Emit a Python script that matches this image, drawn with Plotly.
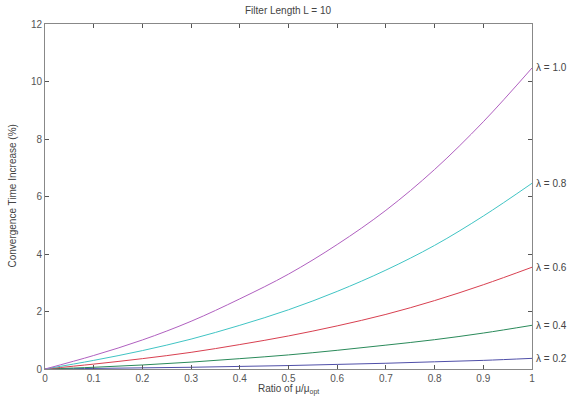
import plotly.graph_objects as go

x_ratio = [0.0, 0.1, 0.2, 0.3, 0.4, 0.5, 0.6, 0.7, 0.8, 0.9, 1.0]
lam_02 = [0.0, 0.02, 0.04, 0.06, 0.09, 0.12, 0.16, 0.20, 0.25, 0.30, 0.37]
lam_04 = [0.0, 0.06, 0.14, 0.24, 0.36, 0.49, 0.65, 0.83, 1.02, 1.25, 1.52]
lam_06 = [0.0, 0.17, 0.36, 0.58, 0.85, 1.15, 1.50, 1.90, 2.38, 2.93, 3.54]
lam_08 = [0.0, 0.30, 0.64, 1.04, 1.52, 2.06, 2.70, 3.44, 4.30, 5.32, 6.46]
lam_10 = [0.0, 0.47, 1.01, 1.66, 2.44, 3.30, 4.33, 5.52, 6.94, 8.60, 10.47]

series = [
    ("λ = 0.2", lam_02, "#4f4fa8"),
    ("λ = 0.4", lam_04, "#2a8a5a"),
    ("λ = 0.6", lam_06, "#d84050"),
    ("λ = 0.8", lam_08, "#40c4c4"),
    ("λ = 1.0", lam_10, "#b060c0"),
]

fig = go.Figure()
for name, vals, col in series:
    fig.add_trace(go.Scatter(x=x_ratio, y=vals, mode="lines", name=name,
                             line=dict(color=col, width=1, shape="spline", smoothing=1)))

annotations = []
for name, vals, col in series:
    annotations.append(dict(x=1, xref="paper", y=vals[-1], yref="y", text=name,
                            showarrow=False, xanchor="left", yanchor="middle", xshift=2,
                            font=dict(size=10, color="#444444")))

annotations.append(dict(x=0.5, xref="paper", y=1, yref="paper", yshift=14, text="Filter Length L = 10",
                        showarrow=False, xanchor="center", yanchor="middle",
                        font=dict(size=10, color="#444444")))
annotations.append(dict(x=0, xref="paper", y=0.5, yref="paper", xshift=-33, text="Convergence Time Increase (%)",
                        showarrow=False, textangle=-90, xanchor="center", yanchor="middle",
                        font=dict(size=10, color="#444444")))
annotations.append(dict(x=0.5, xref="paper", y=0, yref="paper", yshift=-12, text="Ratio of μ/μ<sub>opt</sub>",
                        showarrow=False, xanchor="center", yanchor="top",
                        font=dict(size=10, color="#444444")))

axis_common = dict(showline=True, linecolor="#888888", linewidth=1, mirror="allticks",
                   ticks="inside", ticklen=4, tickcolor="#555555", showgrid=False, zeroline=False,
                   tickfont=dict(size=10, color="#555555", family="Liberation Sans, Arial"))

fig.update_layout(
    width=576, height=397,
    margin=dict(l=45, r=44, t=24, b=28),
    paper_bgcolor="white", plot_bgcolor="white",
    showlegend=False,
    font=dict(family="Liberation Sans, Arial", size=10, color="#444444"),
    xaxis=dict(range=[0, 1], tickvals=[0, 0.1, 0.2, 0.3, 0.4, 0.5, 0.6, 0.7, 0.8, 0.9, 1],
               ticktext=["0", "0.1", "0.2", "0.3", "0.4", "0.5", "0.6", "0.7", "0.8", "0.9", "1"], **axis_common),
    yaxis=dict(range=[0, 12], dtick=2, **axis_common),
    annotations=annotations,
)

fig.write_html("out.html")
